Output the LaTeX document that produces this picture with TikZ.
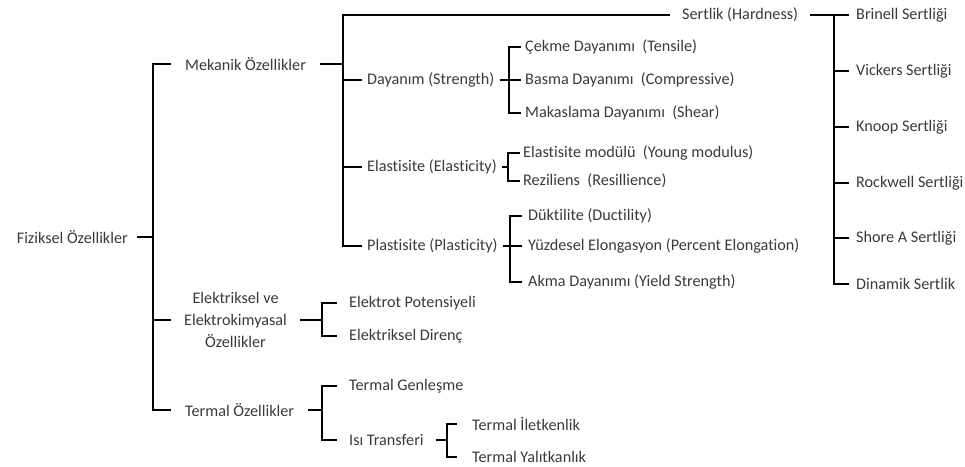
\documentclass[tikz,border=0pt]{standalone}
\usepackage{fontspec}
\setmainfont{Carlito}[Ligatures=NoCommon]
\definecolor{txt}{HTML}{3A3A3A}

\begin{document}
\begin{tikzpicture}[x=1pt,y=-1pt,
  lbl/.style={anchor=west,inner ysep=1pt,inner xsep=#1,text=txt,font=\fontsize{16.2}{22}\selectfont},
  lbl/.default=6pt,
  link/.style={line width=2.7pt}]
\useasboundingbox (0,0) rectangle (965,466);
% bar positions
\coordinate (b1) at (153,0);
\coordinate (b2) at (343,0);
\coordinate (b3) at (509,0);
\coordinate (b4) at (508,0);
\coordinate (b5) at (510,0);
\coordinate (b6) at (834,0);
\coordinate (b7) at (322,0);
\coordinate (b8) at (322,0);
\coordinate (b9) at (447,0);
% level 0 and 1
\node[lbl=9pt,anchor=east] (fiz) at (137,237) {Fiziksel Özellikler};
\node[lbl=14pt] (mek) at (171,64) {Mekanik Özellikler};
\node[lbl=13pt,align=center] (elek) at (171,320) {Elektriksel ve\\Elektrokimyasal\\Özellikler};
\node[lbl=14pt] (term) at (171,410) {Termal Özellikler};
% mekanik
\node[lbl=12pt] (sert) at (670,15) {Sertlik (Hardness)};
\node[lbl=5pt] (day) at (362,80) {Dayanım (Strength)};
\node[lbl=5pt] (elas) at (362,167) {Elastisite (Elasticity)};
\node[lbl=5pt] (plas) at (362,246) {Plastisite (Plasticity)};
\node[lbl=4pt] (cek) at (521,47) {Çekme Dayanımı \ (Tensile)};
\node[lbl=4pt] (bas) at (521,80) {Basma Dayanımı \ (Compressive)};
\node[lbl=4pt] (mak) at (521,113) {Makaslama Dayanımı \ (Shear)};
\node[lbl=3pt] (mod) at (520,153) {Elastisite modülü \ (Young modulus)};
\node[lbl=3pt] (rez) at (520,181) {Reziliens \ (Resillience)};
\node[lbl=6pt] (duk) at (522,216) {Düktilite (Ductility)};
\node[lbl=6pt] (yuz) at (522,246) {Yüzdesel Elongasyon (Percent Elongation)};
\node[lbl=6pt] (akma) at (522,282) {Akma Dayanımı (Yield Strength)};
% sertlik
\node[lbl=7pt] (brin) at (849,15) {Brinell Sertliği};
\node[lbl=7pt] (vick) at (849,71) {Vickers Sertliği};
\node[lbl=7pt] (knoop) at (849,127) {Knoop Sertliği};
\node[lbl=7pt] (rock) at (849,183) {Rockwell Sertliği};
\node[lbl=7pt] (shore) at (849,238) {Shore A Sertliği};
\node[lbl=7pt] (dina) at (849,284) {Dinamik Sertlik};
% elektrik, termal
\node[lbl=12pt] (pot) at (337,303) {Elektrot Potensiyeli};
\node[lbl=12pt] (dir) at (337,336) {Elektriksel Direnç};
\node[lbl=12pt] (gen) at (337,386) {Termal Genleşme};
\node[lbl=12pt] (isi) at (337,440) {Isı Transferi};
\node[lbl=15pt] (ilet) at (457,424) {Termal İletkenlik};
\node[lbl=15pt] (yal) at (457,457) {Termal Yalıtkanlık};
% brackets
\foreach \c in {mek,elek,term}
  \draw[link] (fiz.east) -- (fiz.east -| b1) |- (\c.west);
\foreach \c in {sert,day,elas,plas}
  \draw[link] (mek.east) -- (mek.east -| b2) |- (\c.west);
\foreach \c in {cek,bas,mak}
  \draw[link] (day.east) -- (day.east -| b3) |- (\c.west);
\foreach \c in {mod,rez}
  \draw[link] (elas.east) -- (elas.east -| b4) |- (\c.west);
\foreach \c in {duk,yuz,akma}
  \draw[link] (plas.east) -- (plas.east -| b5) |- (\c.west);
\foreach \c in {brin,vick,knoop,rock,shore,dina}
  \draw[link] (sert.east) -- (sert.east -| b6) |- (\c.west);
\foreach \c in {pot,dir}
  \draw[link] (elek.east) -- (elek.east -| b7) |- (\c.west);
\foreach \c in {gen,isi}
  \draw[link] (term.east) -- (term.east -| b8) |- (\c.west);
\foreach \c in {ilet,yal}
  \draw[link] (isi.east) -- (isi.east -| b9) |- (\c.west);
\end{tikzpicture}
\end{document}
